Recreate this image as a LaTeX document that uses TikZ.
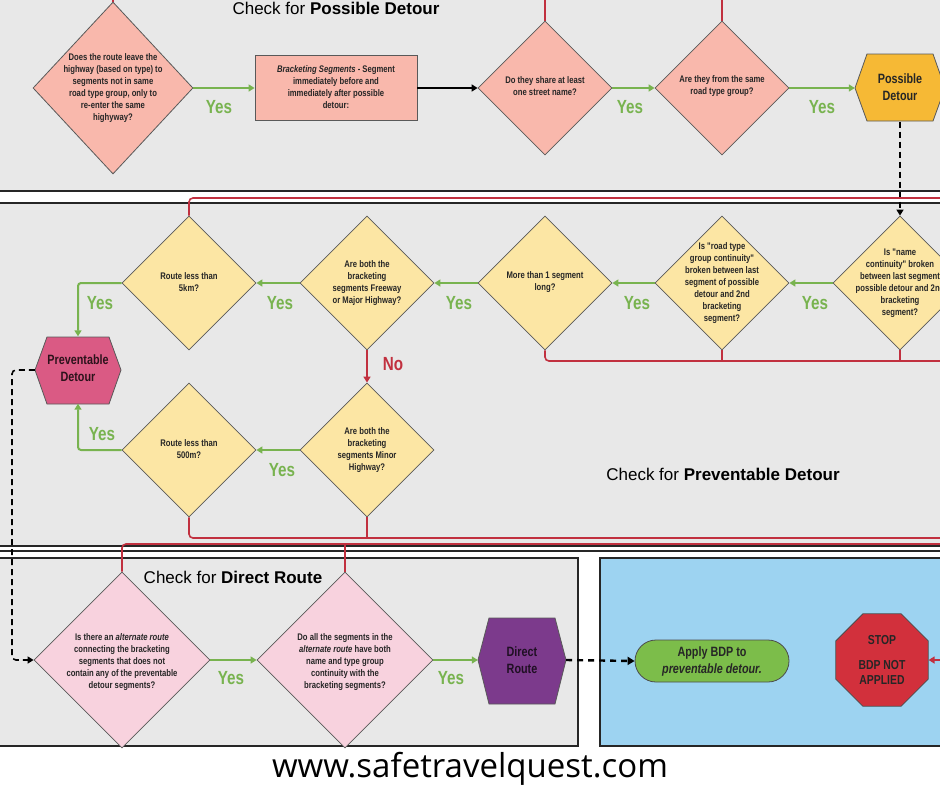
\documentclass[tikz,border=0pt]{standalone}
\usepackage{fontspec}
\setmainfont{Liberation Sans}
\newfontfamily\nar{Liberation Sans}[FakeStretch=0.8]
\newfontfamily\opn{Open Sans}
\usetikzlibrary{shapes.geometric,shapes.misc,arrows.meta}
\definecolor{bg}{HTML}{E8E8E8}
\definecolor{salm}{HTML}{F9B8AC}
\definecolor{yel}{HTML}{FCE6A4}
\definecolor{pnk}{HTML}{F8D2DE}
\definecolor{grn}{HTML}{78B34F}
\definecolor{rd}{HTML}{C1303F}
\definecolor{org}{HTML}{F6B935}
\definecolor{mag}{HTML}{DA5A84}
\definecolor{pur}{HTML}{7C3A8C}
\definecolor{blu}{HTML}{9DD3F1}
\definecolor{ok}{HTML}{7CBD4A}
\definecolor{stp}{HTML}{D2303C}
\begin{document}
\begin{tikzpicture}[x=1pt,y=-1pt,
  dia/.style={diamond,draw=gray!70!black,line width=0.8pt,inner sep=0pt},
  dt/.style={align=center,font=\nar\bfseries\fontsize{9.6}{12}\selectfont,text=black!85},
  bt/.style={dt,font=\nar\bfseries\fontsize{13.5}{17}\selectfont},
  ga/.style={draw=grn,line width=2pt,-{Triangle[length=6pt,width=7pt]}},
  rl/.style={draw=rd,line width=1.6pt,rounded corners=4pt},
  yes/.style={text=grn,font=\nar\bfseries\fontsize{19}{19}\selectfont},
  panel/.style={draw=black!85,line width=1.2pt},
  ttl/.style={font=\fontsize{17}{17}\selectfont}]
\useasboundingbox (0,0) rectangle (940,788);
\fill[white] (0,0) rectangle (940,788);
% panels
\fill[bg] (0,0) rectangle (940,191);
\draw[panel] (0,191) -- (940,191);
\fill[bg] (0,203) rectangle (940,546);
\draw[panel] (0,203) -- (940,203);
\draw[panel] (0,546) -- (940,546);
\draw[panel] (0,551) -- (940,551);
\draw[panel,fill=bg] (-2,558) rectangle (578,746);
\draw[panel,fill=blu] (600,558) rectangle (942,746);
% titles
\node[ttl] (t1) at (336,8) {Check for \textbf{Possible Detour}};
\node[ttl] (t2) at (723,474) {Check for \textbf{Preventable Detour}};
\node[ttl] (t3) at (233,577) {Check for \textbf{Direct Route}};
\node[font=\opn\fontsize{33}{33}\selectfont] (web) at (470,769) {www.safetravelquest.com};
% top row
\node[dia,fill=salm,minimum width=160,minimum height=172] (d1) at (113,88) {};
\node[dt] (d1t) at (113,88) {Does the route leave the\\highway (based on type) to\\segments not in same\\road type group, only to\\re-enter the same\\highyway?};
\node[rectangle,draw=gray!70!black,line width=0.8pt,fill=salm,minimum width=162,minimum height=65] (box) at (336,88) {};
\node[dt] (boxt) at (336,87) {\textit{Bracketing Segments} - Segment\\immediately before and\\immediately after possible\\detour:};
\node[dia,fill=salm,minimum width=134,minimum height=134] (d2) at (545,88) {};
\node[dt] (d2t) at (545,86) {Do they share at least\\one street name?};
\node[dia,fill=salm,minimum width=134,minimum height=134] (d3) at (722,88) {};
\node[dt] (d3t) at (722,86) {Are they from the same\\road type group?};
\fill[org,draw=gray!70!black,line width=0.8pt] (855,88) -- (867,54) -- (933,54) -- (945,88) -- (933,121) -- (867,121) -- cycle;
\node[minimum width=90,minimum height=67,inner sep=0] (pd) at (900,88) {};
\node[bt] (pdt) at (900,87) {Possible\\Detour};
\draw[ga] (d1.east) -- (box.west);
\draw[line width=2pt,-{Triangle[length=6pt,width=7pt]}] (box.east) -- (d2.west);
\draw[ga] (d2.east) -- (d3.west);
\draw[ga] (d3.east) -- (pd.west);
\node[yes] (y1) at (219,107) {Yes};
\node[yes] (y2) at (630,107) {Yes};
\node[yes] (y3) at (822,107) {Yes};
\coordinate (c1) at (113,-2); \coordinate (c2) at (545,-2); \coordinate (c3) at (722,-2);
\draw[rl] (d1.north) -- (c1);
\draw[rl] (d2.north) -- (c2);
\draw[rl] (d3.north) -- (c3);
% middle row
\node[dia,fill=yel,minimum width=134,minimum height=134] (m1) at (900,283) {};
\node[dt] (m1t) at (900,283) {Is "name\\continuity" broken\\between last segment\\possible detour and 2nd\\bracketing\\segment?};
\node[dia,fill=yel,minimum width=134,minimum height=134] (m2) at (722,283) {};
\node[dt] (m2t) at (722,283) {Is "road type\\group continuity"\\broken between last\\segment of possible\\detour and 2nd\\bracketing\\segment?};
\node[dia,fill=yel,minimum width=134,minimum height=134] (m3) at (545,283) {};
\node[dt] (m3t) at (545,282) {More than 1 segment\\long?};
\node[dia,fill=yel,minimum width=134,minimum height=134] (m4) at (367,283) {};
\node[dt] (m4t) at (367,283) {Are both the\\bracketing\\segments Freeway\\or Major Highway?};
\node[dia,fill=yel,minimum width=134,minimum height=134] (m5) at (189,283) {};
\node[dt] (m5t) at (189,282) {Route less than\\5km?};
\node[dia,fill=yel,minimum width=134,minimum height=134] (m6) at (367,450) {};
\node[dt] (m6t) at (367,450) {Are both the\\bracketing\\segments Minor\\Highway?};
\node[dia,fill=yel,minimum width=134,minimum height=134] (m7) at (189,450) {};
\node[dt] (m7t) at (189,449) {Route less than\\500m?};
\fill[mag,draw=gray!70!black,line width=0.8pt] (35,370) -- (47,337) -- (109,337) -- (121,370) -- (109,404) -- (47,404) -- cycle;
\node[minimum width=86,minimum height=67,inner sep=0] (pv) at (78,370) {};
\node[bt,text=black!80!mag] (pvt) at (78,368) {Preventable\\Detour};
\draw[ga] (m1.west) -- (m2.east);
\draw[ga] (m2.west) -- (m3.east);
\draw[ga] (m3.west) -- (m4.east);
\draw[ga] (m4.west) -- (m5.east);
\draw[ga] (m6.west) -- (m7.east);
\draw[ga,rounded corners=3pt] (m5.west) -| (pv.north);
\draw[ga,rounded corners=3pt] (m7.west) -| (pv.south);
\draw[draw=rd,line width=1.6pt,-{Triangle[length=6pt,width=7pt]}] (m4.south) -- (m6.north);
\node[text=rd,font=\nar\bfseries\fontsize{19}{19}\selectfont] (no) at (393,364) {No};
\node[yes] (y4) at (815,303) {Yes};
\node[yes] (y5) at (637,303) {Yes};
\node[yes] (y6) at (459,303) {Yes};
\node[yes] (y7) at (280,303) {Yes};
\node[yes] (y8) at (100,303) {Yes};
\node[yes] (y9) at (282,470) {Yes};
\node[yes] (y10) at (102,434) {Yes};
\draw[line width=1.6pt,dash pattern=on 6pt off 4pt,-{Triangle[length=6pt,width=7pt]}] (pd.south) -- (m1.north);
\coordinate (r1) at (942,198);
\draw[rl] (m5.north) |- (r1);
\coordinate (r2) at (942,361);
\draw[rl] (m3.south) |- (r2);
\draw[rl] (m2.south) -- (722,361);
\draw[rl] (m1.south) -- (900,361);
\coordinate (r3) at (942,538);
\draw[rl] (m7.south) |- (r3);
\draw[rl] (m6.south) -- (367,538);
% bottom
\node[dia,fill=pnk,minimum width=176,minimum height=176] (b1) at (122,660) {};
\node[dt] (b1t) at (122,662) {Is there an \textit{alternate route}\\connecting the bracketing\\segments that does not\\contain any of the preventable\\detour segments?};
\node[dia,fill=pnk,minimum width=176,minimum height=176] (b2) at (345,660) {};
\node[dt] (b2t) at (345,662) {Do all the segments in the\\\textit{alternate route} have both\\name and type group\\continuity with the\\bracketing segments?};
\fill[pur,draw=gray!70!black,line width=0.8pt] (478,660) -- (489,618) -- (555,618) -- (566,660) -- (555,704) -- (489,704) -- cycle;
\node[minimum width=88,minimum height=86,inner sep=0] (dr) at (522,660) {};
\node[bt,text=black!75!pur] (drt) at (522,660) {Direct\\Route};
\node[rounded rectangle,fill=ok,draw=gray!60!black,line width=0.8pt,minimum width=154,minimum height=42,inner sep=0] (ap) at (712,661) {};
\node[bt] (apt) at (712,661) {Apply BDP to\\\textit{preventable detour.}};
\node[regular polygon,regular polygon sides=8,fill=stp,draw=gray!60!black,line width=0.8pt,minimum size=100,inner sep=0] (st) at (882,660) {};
\node[bt,font=\nar\bfseries\fontsize{13}{15}\selectfont] (stt) at (882,660) {STOP\\[10pt]BDP NOT\\APPLIED};
\coordinate (sr) at (942,660);
\draw[draw=rd,line width=1.6pt,-{Triangle[length=6pt,width=7pt]}] (sr) -- (st.east);
\draw[ga] (b1.east) -- (b2.west);
\draw[ga] (b2.east) -- (dr.west);
\node[yes] (y11) at (231,678) {Yes};
\node[yes] (y12) at (451,678) {Yes};
\draw[line width=2.4pt,dash pattern=on 6pt off 5pt,-{Triangle[length=7pt,width=8pt]}] (dr.east) -- (ap.west);
\draw[line width=1.6pt,dash pattern=on 6pt off 4pt,rounded corners=4pt,-{Triangle[length=6pt,width=7pt]}] (pv.west) -- (12,370) |- (b1.west);
\coordinate (r4) at (942,544);
\draw[rl] (b1.north) |- (r4);
\draw[rl] (b2.north) -- (345,544);
\end{tikzpicture}
\end{document}
